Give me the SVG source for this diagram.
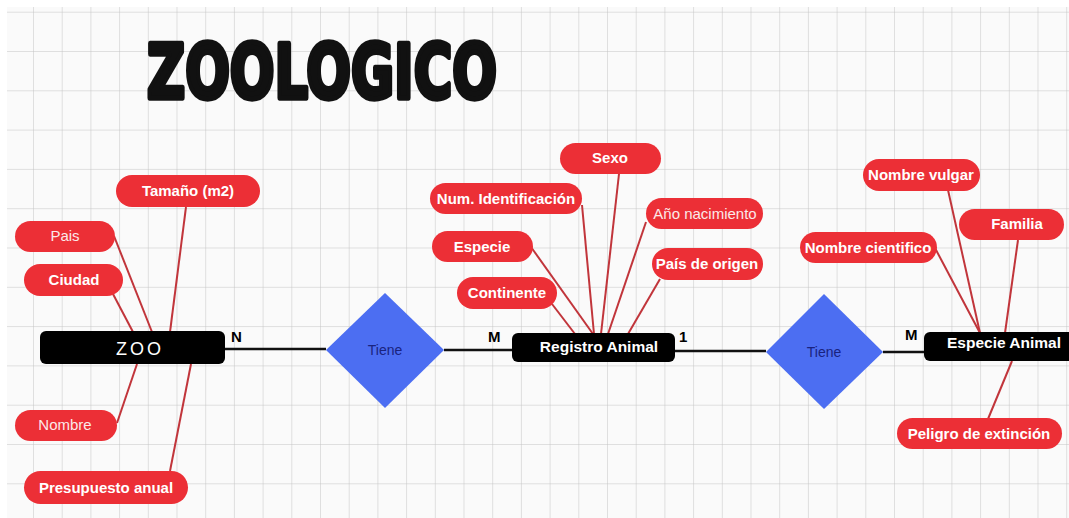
<svg xmlns="http://www.w3.org/2000/svg" width="1069" height="518" viewBox="0 0 1069 518">
<style>
.attr rect{fill:#ec2f36;}
.attr text{fill:#fff;font-family:"Liberation Sans",Arial,sans-serif;font-size:15px;font-weight:bold;text-anchor:middle;}
.attr text.reg{font-weight:normal;fill:#fbe9e9;}
.ent rect{fill:#000;}
.ent text{fill:#fff;font-family:"Liberation Sans",Arial,sans-serif;font-size:15.5px;font-weight:bold;text-anchor:middle;}
.rel polygon{fill:#4c6ef2;}
.rel text{fill:#1a237e;font-family:"Liberation Sans",Arial,sans-serif;font-size:14px;text-anchor:middle;}
.card{fill:#000;font-family:"Liberation Sans",Arial,sans-serif;font-size:15px;font-weight:bold;}
.alink line{stroke:#c1353b;stroke-width:2;}
.rlink line{stroke:#111;stroke-width:2.5;}
</style>
<defs>
<pattern id="grid" patternUnits="userSpaceOnUse" x="33" y="51" width="28.7" height="39.3">
<path d="M0 0V39.3M0 0H28.7" fill="none" stroke="#c4c4c4" stroke-width="1"/>
</pattern>
</defs>
<rect width="1069" height="518" fill="#fff"/>
<rect x="7" y="7" width="1062" height="511" fill="#fafafa"/>
<rect x="7" y="7" width="1062" height="511" fill="url(#grid)"/>

<g id="title">
<text transform="translate(147,98) scale(1,1.35)" x="0" y="0" font-family="'DejaVu Sans',sans-serif" font-weight="bold" font-size="56" fill="#111" stroke="#111" stroke-width="4" stroke-linejoin="round" textLength="350" lengthAdjust="spacingAndGlyphs">ZOOLOGICO</text>
</g>

<g id="connectors">
<g class="alink">
<line x1="186" y1="207" x2="170" y2="332"/>
<line x1="114" y1="236" x2="152" y2="332"/>
<line x1="113" y1="294" x2="133" y2="332"/>
<line x1="137" y1="364" x2="117" y2="423"/>
<line x1="191" y1="364" x2="170" y2="471"/>
<line x1="619" y1="174" x2="601" y2="334"/>
<line x1="582" y1="205" x2="594" y2="334"/>
<line x1="646" y1="222" x2="608" y2="334"/>
<line x1="531" y1="247" x2="593" y2="334"/>
<line x1="660" y1="279" x2="628" y2="334"/>
<line x1="552" y1="304" x2="575" y2="334"/>
<line x1="948" y1="190" x2="980" y2="333"/>
<line x1="935" y1="248" x2="980" y2="333"/>
<line x1="1018" y1="240" x2="1005" y2="333"/>
<line x1="1012" y1="361" x2="988" y2="419"/>
</g>
<g class="rlink">
<line x1="224" y1="349" x2="326" y2="349"/>
<line x1="444" y1="350" x2="513" y2="350"/>
<line x1="674" y1="351" x2="766" y2="351"/>
<line x1="883" y1="352" x2="925" y2="352"/>
</g>
<text class="card" x="231" y="342">N</text>
<text class="card" x="488" y="342">M</text>
<text class="card" x="679" y="342">1</text>
<text class="card" x="905" y="340">M</text>
</g>

<g id="zoo" class="ent"><rect x="40" y="331" width="185" height="33" rx="6"/><text x="140" y="355" style="font-weight:normal;font-size:18px;letter-spacing:3px">ZOO</text></g>
<g id="registro" class="ent"><rect x="512" y="333" width="163" height="29" rx="6"/><text x="599" y="352">Registro Animal</text></g>
<g id="especie-animal" class="ent"><rect x="924" y="332" width="152" height="29" rx="6"/><text x="1004" y="348">Especie Animal</text></g>

<g id="tiene1" class="rel"><polygon points="385,293 444,350 385,408 326,350"/><text x="385" y="355">Tiene</text></g>
<g id="tiene2" class="rel"><polygon points="824,294 883,352 824,409 766,352"/><text x="824" y="357">Tiene</text></g>

<g id="tamano" class="attr"><rect x="116" y="175" width="144" height="32" rx="16"/><text x="188" y="196">Tamaño (m2)</text></g>
<g id="pais" class="attr"><rect x="15" y="221" width="100" height="31" rx="15.5"/><text class="reg" x="65" y="241">Pais</text></g>
<g id="ciudad" class="attr"><rect x="24" y="264" width="99" height="32" rx="16"/><text x="74" y="285">Ciudad</text></g>
<g id="nombre" class="attr"><rect x="15" y="410" width="102" height="31" rx="15.5"/><text class="reg" x="65" y="430">Nombre</text></g>
<g id="presupuesto" class="attr"><rect x="24" y="471" width="164" height="33" rx="16.5"/><text x="106" y="493">Presupuesto anual</text></g>

<g id="sexo" class="attr"><rect x="560" y="143" width="101" height="31" rx="15.5"/><text x="610" y="163">Sexo</text></g>
<g id="num-id" class="attr"><rect x="430" y="183" width="152" height="31" rx="15.5"/><text x="506" y="204">Num. Identificación</text></g>
<g id="ano" class="attr"><rect x="646" y="198" width="117" height="31" rx="15.5"/><text class="reg" x="705" y="219">Año nacimiento</text></g>
<g id="especie" class="attr"><rect x="432" y="231" width="101" height="31" rx="15.5"/><text x="482" y="252">Especie</text></g>
<g id="pais-origen" class="attr"><rect x="652" y="248" width="111" height="32" rx="16"/><text x="707" y="269">País de origen</text></g>
<g id="continente" class="attr"><rect x="457" y="277" width="100" height="32" rx="16"/><text x="507" y="298">Continente</text></g>

<g id="nombre-vulgar" class="attr"><rect x="863" y="159" width="117" height="32" rx="16"/><text x="921" y="180">Nombre vulgar</text></g>
<g id="familia" class="attr"><rect x="959" y="209" width="105" height="31" rx="15.5"/><text x="1017" y="229">Familia</text></g>
<g id="nombre-cientifico" class="attr"><rect x="800" y="232" width="137" height="31" rx="15.5"/><text x="868" y="253">Nombre cientifico</text></g>
<g id="peligro" class="attr"><rect x="897" y="418" width="165" height="31" rx="15.5"/><text x="979" y="439">Peligro de extinción</text></g>
</svg>
